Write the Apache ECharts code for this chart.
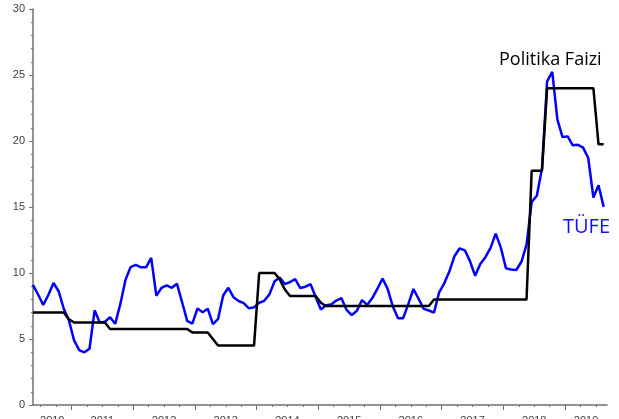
<!DOCTYPE html>
<html><head><meta charset="utf-8">
<script src="https://cdn.jsdelivr.net/npm/echarts@6/dist/echarts.min.js"></script>
<style>html,body{margin:0;padding:0;background:#fff}#c{width:619px;height:419px}</style>
</head><body><div id="c"></div>
<script>
// Monthly data, May 2010 – Aug 2019
const startYear = 2010;
const startMonth = 5;
const tufe = [
  9.10, 8.37, 7.58, 8.33, 9.24, 8.62, 7.29, 6.40,
  4.90, 4.16, 3.99, 4.26, 7.17, 6.24, 6.31, 6.65, 6.15, 7.66, 9.48, 10.45,
  10.61, 10.43, 10.43, 11.14, 8.28, 8.87, 9.07, 8.88, 9.19, 7.80, 6.37, 6.16,
  7.31, 7.03, 7.29, 6.13, 6.51, 8.30, 8.88, 8.17, 7.88, 7.71, 7.32, 7.40,
  7.75, 7.89, 8.39, 9.38, 9.66, 9.16, 9.32, 9.54, 8.86, 8.96, 9.15, 8.17,
  7.24, 7.55, 7.61, 7.91, 8.09, 7.20, 6.81, 7.14, 7.95, 7.58, 8.10, 8.81,
  9.58, 8.78, 7.46, 6.57, 6.58, 7.64, 8.79, 8.05, 7.28, 7.16, 7.00, 8.53,
  9.22, 10.13, 11.29, 11.87, 11.72, 10.90, 9.79, 10.68, 11.20, 11.90, 12.98, 11.92,
  10.35, 10.26, 10.23, 10.85, 12.15, 15.39, 15.85, 17.90, 24.52, 25.24, 21.62, 20.30,
  20.35, 19.67, 19.71, 19.50, 18.71, 15.72, 16.65, 15.01
];
const policy = [
  7, 7, 7, 7, 7, 7, 7, 6.5,
  6.25, 6.25, 6.25, 6.25, 6.25, 6.25, 6.25, 5.75, 5.75, 5.75, 5.75, 5.75,
  5.75, 5.75, 5.75, 5.75, 5.75, 5.75, 5.75, 5.75, 5.75, 5.75, 5.75, 5.5,
  5.5, 5.5, 5.5, 5.0, 4.5, 4.5, 4.5, 4.5, 4.5, 4.5, 4.5, 4.5,
  10, 10, 10, 10, 9.5, 8.75, 8.25, 8.25, 8.25, 8.25, 8.25, 8.25,
  7.75, 7.5, 7.5, 7.5, 7.5, 7.5, 7.5, 7.5, 7.5, 7.5, 7.5, 7.5,
  7.5, 7.5, 7.5, 7.5, 7.5, 7.5, 7.5, 7.5, 7.5, 7.5, 8, 8,
  8, 8, 8, 8, 8, 8, 8, 8, 8, 8, 8, 8,
  8, 8, 8, 8, 8, 17.75, 17.75, 17.75, 24, 24, 24, 24,
  24, 24, 24, 24, 24, 24, 19.75, 19.75
];
const years = [2010, 2011, 2012, 2013, 2014, 2015, 2016, 2017, 2018, 2019];
const labelPolicy = 'Politika Faizi';
const labelTufe = 'TÜFE';

const xMin = 2010.376, xMax = 2019.679;
function tOf(i) { const m = (startMonth - 1) + i; return startYear + (m + 0.5) / 12; }
const tufeData = tufe.map((v, i) => [tOf(i), v]);
const policyData = policy.map((v, i) => [tOf(i), v]);
const labelPos = years.map(y => (Math.max(y, xMin) + Math.min(y + 1, xMax)) / 2);
const quarterTicks = [];
for (let q = 2010; q <= 2020; q += 0.25) if (q >= xMin && q <= xMax) quarterTicks.push(q);
const yearTicks = years.filter(y => y >= xMin && y <= xMax);

const axisCol = '#707070';
const chart = echarts.init(document.getElementById('c'), null, {renderer: 'canvas'});
chart.setOption({
  animation: false,
  grid: {left: 33, right: 12, top: 9, bottom: 14, containLabel: false, outerBoundsMode: 'none'},
  xAxis: [{
    type: 'value', min: xMin, max: xMax,
    axisLine: {lineStyle: {color: axisCol, width: 1.5}},
    axisTick: {customValues: quarterTicks, length: 2, lineStyle: {color: axisCol}},
    axisLabel: {customValues: labelPos, formatter: v => String(Math.floor(v + 1e-6)),
      color: '#404040', fontFamily: 'Liberation Sans', fontSize: 11, margin: 10},
    splitLine: {show: false}
  }, {
    type: 'value', min: xMin, max: xMax, position: 'bottom',
    axisLine: {show: false},
    axisTick: {show: true, customValues: yearTicks, length: 5, lineStyle: {color: axisCol}},
    axisLabel: {show: false},
    splitLine: {show: false}
  }],
  yAxis: {
    type: 'value', min: 0, max: 30, interval: 5,
    axisLine: {show: true, lineStyle: {color: axisCol, width: 1.5}},
    axisTick: {show: true, length: 4, lineStyle: {color: axisCol}},
    minorTick: {show: true, splitNumber: 5, length: 2, lineStyle: {color: axisCol}},
    axisLabel: {color: '#404040', fontFamily: 'Liberation Sans', fontSize: 11, margin: 8},
    splitLine: {show: false}
  },
  series: [{
    name: 'TÜFE', type: 'line', data: tufeData, showSymbol: false,
    lineStyle: {color: '#0000ff', width: 2.5}, z: 2
  }, {
    name: 'Politika Faizi', type: 'line', data: policyData, showSymbol: false,
    lineStyle: {color: '#000000', width: 2.5}, z: 3
  }],
  graphic: [{
    type: 'text', left: 499, top: 51,
    style: {text: labelPolicy, fill: '#000', font: '18px "Open Sans"'}
  }, {
    type: 'text', left: 563, top: 217,
    style: {text: labelTufe, fill: '#1010ff', font: '20px "Open Sans"'}
  }]
});
</script>
</body></html>
